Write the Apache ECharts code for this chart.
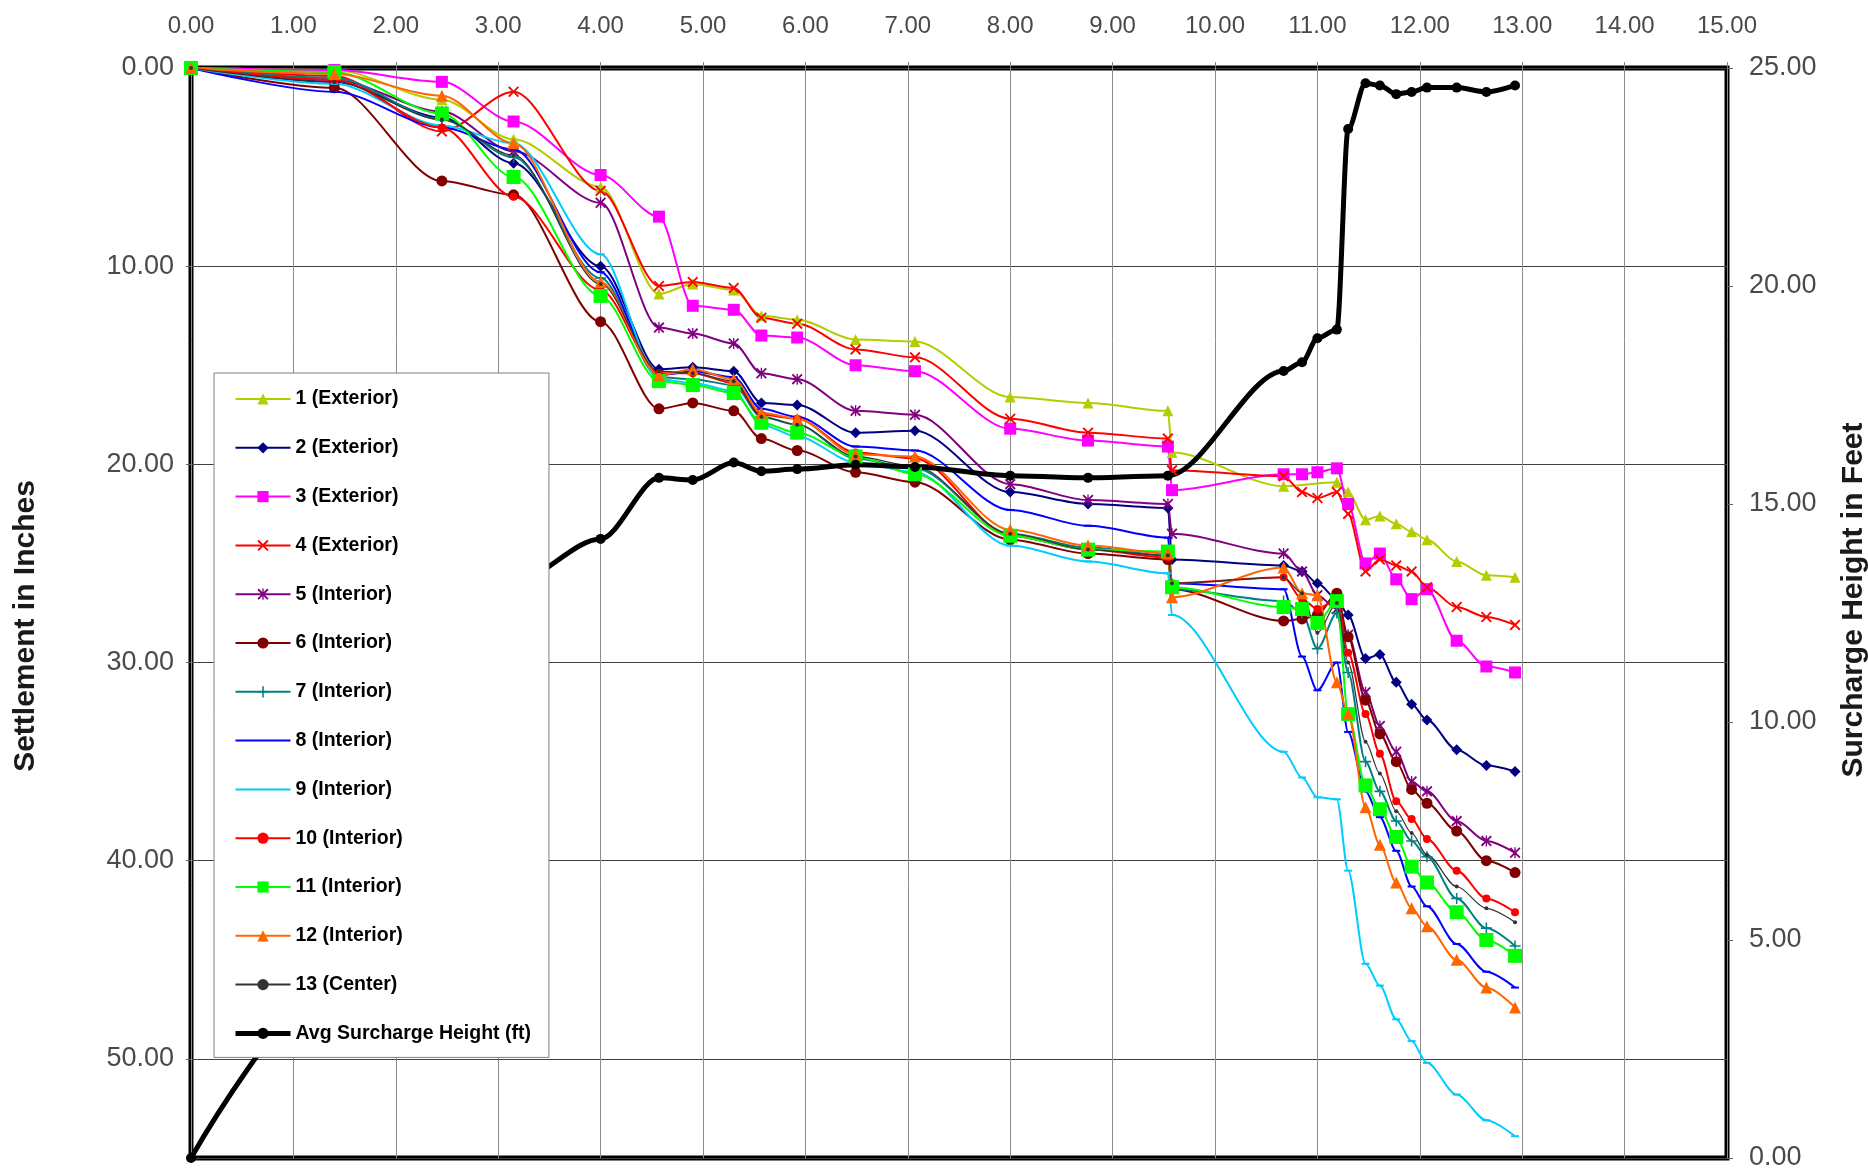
<!DOCTYPE html>
<html>
<head>
<meta charset="utf-8">
<script src="https://cdn.jsdelivr.net/npm/echarts@6/dist/echarts.min.js"></script>
<style>
  html, body { margin: 0; padding: 0; background: #ffffff; }
  #chart { width: 1868px; height: 1169px; }
</style>
</head>
<body>
<div id="chart"></div>
<script>
// Elapsed time of each survey reading (top axis)
const elapsed = [0, 1.4, 2.45, 3.15, 4.0, 4.57, 4.9, 5.3, 5.57, 5.92, 6.49, 7.07, 8.0, 8.76, 9.54, 9.58,
  10.67, 10.85, 11.0, 11.19, 11.3, 11.47, 11.61, 11.77, 11.92, 12.07, 12.36, 12.65, 12.93];

// Settlement plate readings, inches (null = no reading at that time)
const plate1 = [0, 0.1, 1.6, 3.6, 6.0, 11.4, 10.9, 11.2, 12.5, 12.7, 13.7, 13.8, 16.6, 16.9, 17.3, 19.4, 21.1, null, null, 20.9, 21.4, 22.8, 22.6, 23.0, 23.4, 23.8, 24.9, 25.6, 25.7];
const plate2 = [0, 0.7, 2.5, 4.8, 10.0, 15.2, 15.1, 15.3, 16.9, 17.0, 18.4, 18.3, 21.4, 22.0, 22.2, 24.8, 25.1, 25.4, 26.0, 26.8, 27.6, 29.8, 29.6, 31.0, 32.1, 32.9, 34.4, 35.2, 35.5];
const plate3 = [0, 0.1, 0.7, 2.7, 5.4, 7.5, 12.0, 12.2, 13.5, 13.6, 15.0, 15.3, 18.2, 18.8, 19.1, 21.3, 20.5, 20.5, 20.4, 20.2, 22.0, 25.0, 24.5, 25.8, 26.8, 26.3, 28.9, 30.2, 30.5];
const plate4 = [0, 0.4, 3.2, 1.2, 6.2, 11.0, 10.8, 11.1, 12.6, 12.9, 14.2, 14.6, 17.7, 18.4, 18.7, 20.3, 20.6, 21.4, 21.7, 21.4, 22.5, 25.4, 24.8, 25.1, 25.4, 26.2, 27.2, 27.7, 28.1];
const plate5 = [0, 0.6, 2.2, 4.2, 6.8, 13.1, 13.4, 13.9, 15.4, 15.7, 17.3, 17.5, 21.0, 21.8, 22.0, 23.5, 24.5, 25.4, 26.6, 27.3, 28.6, 31.5, 33.2, 34.5, 36.0, 36.5, 38.0, 39.0, 39.6];
const plate6 = [0, 1.0, 5.7, 6.4, 12.8, 17.2, 16.9, 17.3, 18.7, 19.3, 20.4, 20.9, 23.8, 24.5, 24.8, 26.3, 27.9, 27.8, 27.6, 26.5, 28.7, 31.9, 33.6, 35.0, 36.4, 37.1, 38.5, 40.0, 40.6];
const plate7 = [0, 0.5, 2.6, 4.5, 10.6, 15.6, 15.7, 16.0, 17.6, 18.0, 19.7, 20.2, 23.5, 24.2, 24.6, 26.3, 26.9, 27.5, 29.3, 27.5, 30.5, 35.0, 36.5, 38.0, 39.0, 39.8, 41.9, 43.4, 44.3];
const plate8 = [0, 1.2, 3.0, 4.1, 10.3, 15.5, 15.3, 15.6, 17.2, 17.6, 19.1, 19.3, 22.3, 23.1, 23.7, 26.0, 26.3, 29.7, 31.4, 30.0, 33.5, 36.5, 37.8, 39.5, 41.3, 42.3, 44.2, 45.6, 46.4];
const plate9 = [0, 0.8, 2.9, 3.8, 9.4, 15.7, 15.9, 16.3, 18.0, 18.6, 19.9, 20.4, 24.1, 24.9, 25.5, 27.6, 34.5, 35.8, 36.8, 36.9, 40.5, 45.2, 46.3, 48.0, 49.1, 50.2, 51.8, 53.1, 53.9];
const plate10 = [0, 0.6, 3.0, 6.5, 11.2, 15.4, 15.4, 15.9, 17.5, 17.7, 19.4, 19.7, 23.6, 24.3, 24.7, 26.0, 25.7, 26.8, 27.3, 26.8, 29.5, 32.6, 34.6, 37.0, 37.9, 38.9, 40.5, 41.9, 42.6];
const plate11 = [0, 0.2, 2.3, 5.5, 11.5, 15.8, 16.0, 16.4, 17.9, 18.4, 19.6, 20.5, 23.6, 24.3, 24.4, 26.2, 27.2, 27.3, 28.0, 26.9, 32.6, 36.2, 37.4, 38.8, 40.3, 41.1, 42.6, 44.0, 44.8];
const plate12 = [0, 0.3, 1.4, 3.8, 10.8, 15.5, 15.2, 15.7, 17.4, 17.7, 19.5, 19.6, 23.3, 24.1, 24.5, 26.7, 25.2, 26.5, 26.6, 31.0, 32.6, 37.3, 39.2, 41.1, 42.4, 43.3, 45.0, 46.4, 47.4];
const plate13 = [0, 0.7, 2.6, 4.4, 10.9, 15.3, 15.4, 15.8, 17.6, 18.0, 19.6, 20.1, 23.5, 24.3, 24.6, 26.0, 25.7, 26.5, 28.5, 27.0, 30.0, 34.0, 35.6, 37.5, 38.6, 39.7, 41.3, 42.4, 43.1];

// Average surcharge fill height, feet (right axis)
const surchargeFt = [0, 4.0, 9.5, 13.2, 14.2, 15.6, 15.55, 15.95, 15.75, 15.8, 15.9, 15.85, 15.65, 15.6, 15.65, null,
  18.05, 18.25, 18.8, 19.0, 23.6, 24.65, 24.6, 24.4, 24.45, 24.55, 24.55, 24.45, 24.6];

const plateNames = ['1 (Exterior)', '2 (Exterior)', '3 (Exterior)', '4 (Exterior)', '5 (Interior)', '6 (Interior)',
  '7 (Interior)', '8 (Interior)', '9 (Interior)', '10 (Interior)', '11 (Interior)', '12 (Interior)', '13 (Center)'];
const surchargeName = 'Avg Surcharge Height (ft)';

const timeTicks = { min: 0, max: 15, step: 1 };
const settlementTicks = { min: 0, max: 55, step: 10 };
const heightTicks = { min: 0, max: 25, step: 5 };

// Marker shapes
const X_MARK = 'path://M0,1.2L1.2,0L5,3.8L8.8,0L10,1.2L6.2,5L10,8.8L8.8,10L5,6.2L1.2,10L0,8.8L3.8,5Z';
const STAR_MARK = 'path://M0,1.2L1.2,0L5,3.8L8.8,0L10,1.2L6.2,5L10,8.8L8.8,10L5,6.2L1.2,10L0,8.8L3.8,5Z M4.4,0L5.6,0L5.6,10L4.4,10Z';
const PLUS_MARK = 'path://M4.3,0L5.7,0L5.7,4.3L10,4.3L10,5.7L5.7,5.7L5.7,10L4.3,10L4.3,5.7L0,5.7L0,4.3L4.3,4.3Z';

const plateStyles = [
  { color: '#b4cc00', symbol: 'triangle', size: 11 },
  { color: '#000080', symbol: 'diamond', size: 11 },
  { color: '#ff00ff', symbol: 'rect', size: 12 },
  { color: '#ff0000', symbol: X_MARK, size: 11 },
  { color: '#800080', symbol: STAR_MARK, size: 11 },
  { color: '#800000', symbol: 'circle', size: 11 },
  { color: '#008080', symbol: PLUS_MARK, size: 11 },
  { color: '#0000ff', symbol: 'rect', size: [8, 2], plainKey: true },
  { color: '#00ccff', symbol: 'rect', size: [8, 2], plainKey: true },
  { color: '#ff0000', symbol: 'circle', size: 8 },
  { color: '#00ff00', symbol: 'rect', size: 14 },
  { color: '#ff6600', symbol: 'triangle', size: 12 },
  { color: '#333333', symbol: 'circle', size: 4, width: 1.2 }
];
const plates = [plate1, plate2, plate3, plate4, plate5, plate6, plate7, plate8, plate9, plate10, plate11, plate12, plate13];

function toPoints(values) {
  const pts = [];
  values.forEach((v, i) => { if (v !== null) pts.push([elapsed[i], v]); });
  return pts;
}

const FONT = "'Liberation Sans', Arial, sans-serif";
const fmt2 = v => v.toFixed(2);

const series = plates.map((vals, i) => ({
  name: plateNames[i],
  type: 'line',
  yAxisIndex: 0,
  data: toPoints(vals),
  smooth: 0.3,
  smoothMonotone: 'x',
  symbol: plateStyles[i].symbol,
  symbolSize: plateStyles[i].size,
  showAllSymbol: true,
  lineStyle: { color: plateStyles[i].color, width: plateStyles[i].width || 2 },
  itemStyle: { color: plateStyles[i].color },
  emphasis: { disabled: true }
}));

series.push({
  name: surchargeName,
  type: 'line',
  yAxisIndex: 1,
  data: toPoints(surchargeFt),
  smooth: 0.3,
  smoothMonotone: 'x',
  symbol: 'circle',
  symbolSize: 10,
  showAllSymbol: true,
  lineStyle: { color: '#000000', width: 5 },
  itemStyle: { color: '#000000' },
  emphasis: { disabled: true }
});

// Legend keys: dash-marker plates show just their line
const legendItems = plateNames.map((name, i) =>
  plateStyles[i].plainKey ? { name: name, itemStyle: { opacity: 0 } } : { name: name });
legendItems.push({ name: surchargeName, lineStyle: { width: 5 } });

const chart = echarts.init(document.getElementById('chart'), null, { renderer: 'canvas' });
chart.setOption({
  animation: false,
  backgroundColor: '#ffffff',
  grid: {
    left: 191, top: 68, right: 141, bottom: 11,
    outerBoundsMode: 'none',
    show: true, borderColor: '#000000', borderWidth: 5, backgroundColor: 'transparent'
  },
  legend: {
    orient: 'vertical',
    left: 214, top: 373,
    padding: [16, 18, 14, 19],
    itemGap: 28.8, itemWidth: 55, itemHeight: 14,
    backgroundColor: '#ffffff',
    borderColor: '#808080', borderWidth: 1,
    textStyle: { fontFamily: FONT, fontSize: 19.5, fontWeight: 'bold', color: '#000000' },
    data: legendItems
  },
  xAxis: {
    type: 'value', position: 'top',
    min: timeTicks.min, max: timeTicks.max, interval: timeTicks.step,
    axisLine: { show: false },
    axisTick: { show: true, inside: false, length: 6, lineStyle: { color: '#808080' } },
    axisLabel: { formatter: fmt2, margin: 30, fontFamily: FONT, fontSize: 24, color: '#4a4a4a' },
    splitLine: { show: true, lineStyle: { color: '#8c8c8c', width: 1 } }
  },
  yAxis: [
    {
      type: 'value', position: 'left', inverse: true,
      min: settlementTicks.min, max: settlementTicks.max, interval: settlementTicks.step,
      name: 'Settlement in Inches', nameLocation: 'middle', nameRotate: 90, nameGap: 150,
      nameTextStyle: { fontFamily: FONT, fontSize: 30, fontWeight: 'bold', color: '#1a1a1a', padding: [0, 26, 0, 0] },
      axisLine: { show: false },
      axisTick: { show: true, length: 5, lineStyle: { color: '#606060' } },
      axisLabel: { formatter: fmt2, margin: 17, fontFamily: FONT, fontSize: 27, color: '#4a4a4a', showMaxLabel: false },
      splitLine: { show: true, lineStyle: { color: '#404040', width: 1 } }
    },
    {
      type: 'value', position: 'right',
      min: heightTicks.min, max: heightTicks.max, interval: heightTicks.step,
      name: 'Surcharge Height in Feet', nameLocation: 'middle', nameRotate: 90, nameGap: 112,
      nameTextStyle: { fontFamily: FONT, fontSize: 30, fontWeight: 'bold', color: '#1a1a1a', padding: [0, 0, 0, 26] },
      axisLine: { show: false },
      axisTick: { show: true, length: 6, lineStyle: { color: '#606060' } },
      axisLabel: { formatter: fmt2, margin: 22, fontFamily: FONT, fontSize: 27, color: '#4a4a4a' },
      splitLine: { show: false }
    }
  ],
  series: series
});
</script>
</body>
</html>
